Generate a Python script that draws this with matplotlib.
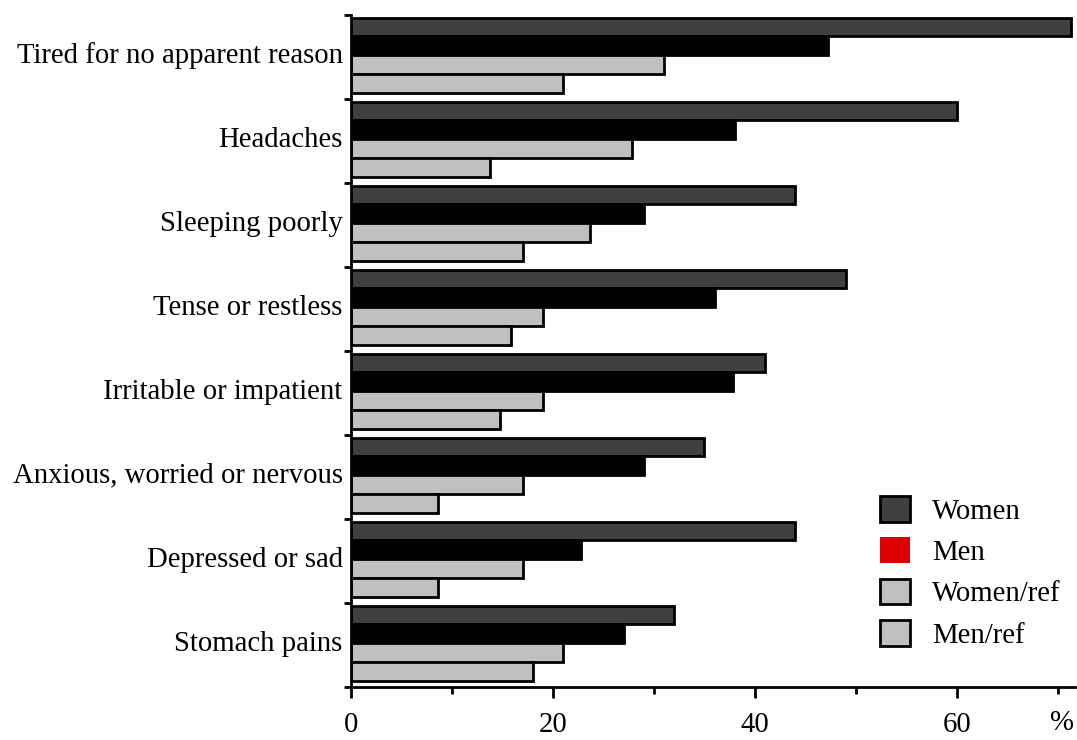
import matplotlib
matplotlib.use("Agg")
import matplotlib.pyplot as plt
from matplotlib.patches import Patch
import numpy as np

categories = ["Tired for no apparent reason", "Headaches", "Sleeping poorly",
              "Tense or restless", "Irritable or impatient",
              "Anxious, worried or nervous", "Depressed or sad", "Stomach pains"]
women = [71.3, 60, 44, 49, 41, 35, 44, 32]
men = [47.2, 38, 29, 36, 37.8, 29, 22.8, 27]
women_ref = [31, 27.8, 23.7, 19, 19, 17, 17, 21]
men_ref = [21, 13.8, 17, 15.8, 14.8, 8.6, 8.6, 18]
series_names = ["Women", "Men", "Women/ref", "Men/ref"]
xtick_vals = [0, 20, 40, 60]
xtick_labels = ["0", "20", "40", "60"]
unit_label = "%"

plt.rcParams['font.family'] = ['Liberation Serif', 'DejaVu Serif']

fig = plt.figure(figsize=(10.77, 7.40), dpi=100)
ax = fig.add_axes([351/1077, 1-687/740, 724/1077, 672/740])

series = [women, men, women_ref, men_ref]
fills = ["#404040", "#000000", "#c0c0c0", "#c0c0c0"]
h = 0.225
n = len(categories)
base = np.arange(n)
for k, (vals, fc) in enumerate(zip(series, fills)):
    ax.barh(base + 0.03 + h*k + h/2, vals, height=h, color=fc,
            edgecolor="black", linewidth=2.0, zorder=2)

ax.set_xlim(0, 71.7)
ax.set_ylim(n, 0)

for s in ["top", "right"]:
    ax.spines[s].set_visible(False)
for s in ["left", "bottom"]:
    ax.spines[s].set_linewidth(2.0)
ax.spines["bottom"].set_zorder(3)
ax.spines["left"].set_zorder(3)

ax.set_yticks(np.arange(n + 1))
ax.set_yticklabels([])
ax.set_yticks(base + 0.45, minor=True)
ax.set_yticklabels(categories, minor=True)
ax.tick_params(axis="y", which="major", length=5, width=2, direction="out")
ax.tick_params(axis="y", which="minor", length=0, pad=6, labelsize=20.7)

ax.set_xticks(xtick_vals)
ax.set_xticklabels(xtick_labels)
ax.set_xticks([10, 30, 50, 70], minor=True)
ax.tick_params(axis="x", which="major", length=8, width=2, direction="out",
               pad=10, labelsize=20.7)
ax.tick_params(axis="x", which="minor", length=5, width=2, direction="out")
ax.text(70.4, -0.034, unit_label, transform=ax.get_xaxis_transform(),
        ha="center", va="top", fontsize=20.7, clip_on=False)

handles = [Patch(facecolor="#404040", edgecolor="black", linewidth=2),
           Patch(facecolor="#dd0000", edgecolor="#dd0000", linewidth=0),
           Patch(facecolor="#c0c0c0", edgecolor="black", linewidth=2),
           Patch(facecolor="#c0c0c0", edgecolor="black", linewidth=2)]
fig.legend(handles, series_names, loc="upper left",
           bbox_to_anchor=(880/1077, 1-496/740), frameon=False,
           fontsize=20.7, handlelength=1.05, handleheight=1.0,
           handletextpad=0.75, labelspacing=0.44, borderpad=0, borderaxespad=0)

fig.savefig("out.png", dpi=100)
